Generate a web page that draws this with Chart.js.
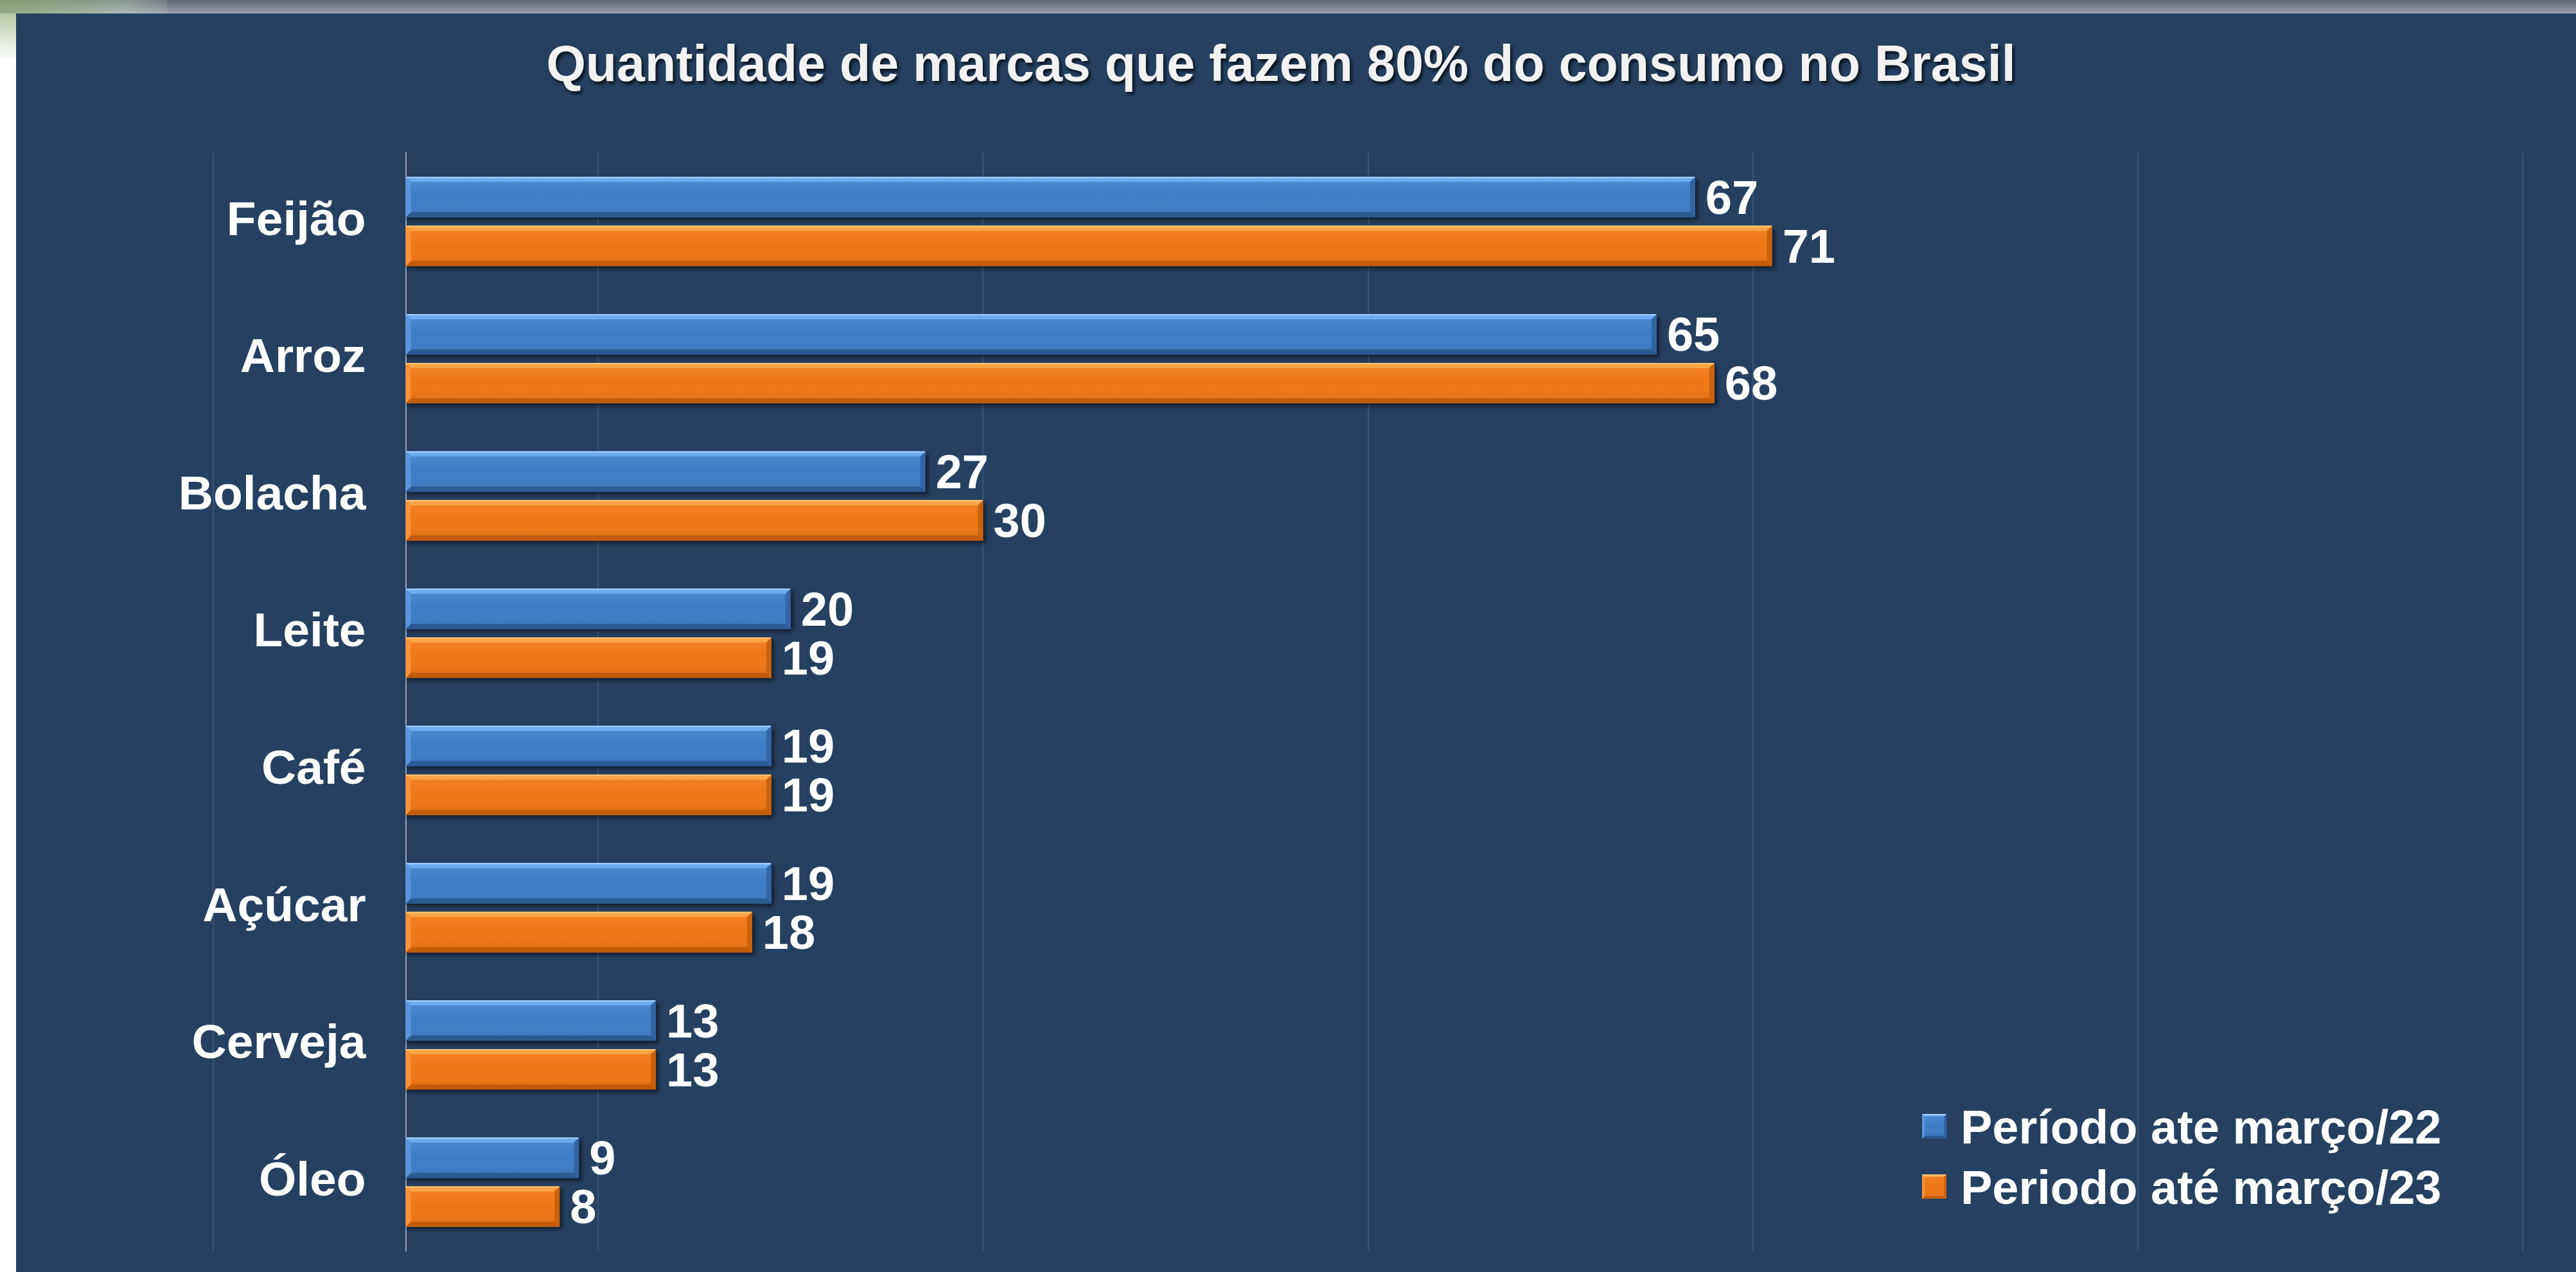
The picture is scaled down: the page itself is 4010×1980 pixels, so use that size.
<!DOCTYPE html>
<html lang="pt-BR">
<head>
<meta charset="utf-8">
<title>Quantidade de marcas que fazem 80% do consumo no Brasil</title>
<script src="https://cdn.jsdelivr.net/npm/chart.js@4.4.1/dist/chart.umd.min.js"></script>
<style>
    html, body {
        margin: 0;
        padding: 0;
        width: 4010px;
        height: 1980px;
        overflow: hidden;
        background: #ffffff;
    }
    .top-band {
        position: absolute;
        left: 0;
        top: 0;
        width: 4010px;
        height: 21px;
        background: linear-gradient(to bottom, #5f6875, #9ba3ad);
    }
    .corner {
        position: absolute;
        left: 0;
        top: 0;
        width: 260px;
        height: 90px;
        background: radial-gradient(ellipse at 0 0, rgba(140, 170, 110, 0.85), rgba(200, 215, 190, 0.4) 55%, rgba(255, 255, 255, 0) 80%);
    }
    .panel {
        position: absolute;
        left: 25px;
        top: 21px;
        width: 3985px;
        height: 1959px;
        background: #264062;
    }
    #brandChart {
        display: block;
    }
</style>
</head>
<body>
<div class="top-band"></div>
<div class="corner"></div>
<div class="panel">
    <canvas id="brandChart" width="3985" height="1959"></canvas>
</div>
<script>
// chart data
const chartTitle = 'Quantidade de marcas que fazem 80% do consumo no Brasil';
const categories = ['Feijão', 'Arroz', 'Bolacha', 'Leite', 'Café', 'Açúcar', 'Cerveja', 'Óleo'];
const seriesNames = ['Período ate março/22', 'Periodo até março/23'];
const values2022 = [67, 65, 27, 20, 19, 19, 13, 9];
const values2023 = [71, 68, 30, 19, 19, 18, 13, 8];
const axisMin = -10;
const axisMax = 110;
const axisStep = 20;

const FONT = "'Liberation Sans', Arial, sans-serif";

// bevel colours for each series
const palettes = [
    { body: '#3e7cc8', top: '#6eaaf0', line: '#a6d2ff', left: '#5a96de', right: '#3365a5', bottom: '#2c5a93' },
    { body: '#f07613', top: '#fba546', line: '#ffc77a', left: '#f6923a', right: '#c9620d', bottom: '#c15c0b' }
];

const BORDER = 6.5;
const LABEL_GAP = 62;

function poly(ctx, pts, color) {
    ctx.beginPath();
    ctx.moveTo(pts[0][0], pts[0][1]);
    for (let i = 1; i < pts.length; i++) ctx.lineTo(pts[i][0], pts[i][1]);
    ctx.closePath();
    ctx.fillStyle = color;
    ctx.fill();
}

function bevelBox(ctx, l, t, r, b, pal, d) {
    const g = ctx.createLinearGradient(0, t, 0, b);
    g.addColorStop(0, 'rgba(255,255,255,0.10)');
    g.addColorStop(0.5, 'rgba(255,255,255,0)');
    g.addColorStop(1, 'rgba(0,0,0,0.10)');
    ctx.fillStyle = g;
    ctx.fillRect(l, t, r - l, b - t);
    poly(ctx, [[l, t], [r, t], [r - d, t + d], [l + d, t + d]], pal.top);
    poly(ctx, [[l, b], [r, b], [r - d, b - d], [l + d, b - d]], pal.bottom);
    poly(ctx, [[l, t], [l + d, t + d], [l + d, b - d], [l, b]], pal.left);
    poly(ctx, [[r, t], [r - d, t + d], [r - d, b - d], [r, b]], pal.right);
    ctx.fillStyle = pal.line;
    ctx.fillRect(l + 1, t, r - l - 2, 2);
}

function barRect(el) {
    const p = el.getProps(['x', 'y', 'base', 'height'], true);
    return {
        l: Math.min(p.base, p.x),
        r: Math.max(p.base, p.x),
        t: p.y - p.height / 2 + BORDER,
        b: p.y + p.height / 2 - BORDER,
        cy: p.y
    };
}

// category labels sit a little left of the zero line
const labelGap = {
    id: 'labelGap',
    afterLayout(chart) {
        const yScale = chart.scales.y;
        if (yScale._gapPatched) return;
        const orig = yScale.drawLabels;
        yScale.drawLabels = function(area) {
            this.ctx.save();
            this.ctx.translate(-LABEL_GAP, 0);
            orig.call(this, area);
            this.ctx.restore();
        };
        yScale._gapPatched = true;
    }
};

// shadow + bevel on bars, value labels
const barDecor = {
    id: 'barDecor',
    beforeDatasetsDraw(chart) {
        const ctx = chart.ctx;
        ctx.save();
        ctx.filter = 'blur(3px)';
        ctx.fillStyle = 'rgba(0, 0, 0, 0.55)';
        chart.data.datasets.forEach((ds, i) => {
            chart.getDatasetMeta(i).data.forEach(el => {
                const r = barRect(el);
                ctx.fillRect(r.l + 2, r.t + 4, r.r - r.l + 2, r.b - r.t);
            });
        });
        ctx.restore();
    },
    afterDatasetsDraw(chart) {
        const ctx = chart.ctx;
        ctx.save();
        chart.data.datasets.forEach((ds, i) => {
            chart.getDatasetMeta(i).data.forEach(el => {
                const r = barRect(el);
                bevelBox(ctx, r.l, r.t, r.r, r.b, palettes[i], 8);
            });
        });
        ctx.font = 'bold 74px ' + FONT;
        ctx.fillStyle = '#ffffff';
        ctx.textAlign = 'left';
        ctx.textBaseline = 'alphabetic';
        chart.data.datasets.forEach((ds, i) => {
            chart.getDatasetMeta(i).data.forEach((el, j) => {
                const r = barRect(el);
                ctx.fillText(String(ds.data[j]), r.r + 16, r.cy + 26);
            });
        });
        ctx.restore();
    }
};

// title and legend drawn in the plot
const titleLegend = {
    id: 'titleLegend',
    afterDraw(chart) {
        const ctx = chart.ctx;
        ctx.save();
        ctx.font = 'bold 79px ' + FONT;
        ctx.textAlign = 'center';
        ctx.textBaseline = 'alphabetic';
        ctx.shadowColor = 'rgba(0, 0, 0, 0.75)';
        ctx.shadowOffsetX = 3;
        ctx.shadowOffsetY = 4;
        ctx.shadowBlur = 5;
        ctx.fillStyle = '#f2f2f2';
        ctx.fillText(chartTitle, 1969, 105);
        ctx.restore();

        ctx.save();
        ctx.font = 'bold 74px ' + FONT;
        ctx.textAlign = 'left';
        ctx.textBaseline = 'alphabetic';
        chart.data.datasets.forEach((ds, i) => {
            const cy = 1732 + i * 94;
            ctx.fillStyle = palettes[i].body;
            ctx.fillRect(2967, cy - 19, 38, 38);
            bevelBox(ctx, 2967, cy - 19, 3005, cy + 19, palettes[i], 4);
            ctx.fillStyle = '#ffffff';
            ctx.fillText(ds.label, 3027, cy + 27);
        });
        ctx.restore();
    }
};

document.addEventListener('DOMContentLoaded', function() {
    const ctx = document.getElementById('brandChart').getContext('2d');
    const chart = new Chart(ctx, {
        type: 'bar',
        data: {
            labels: categories,
            datasets: [{
                label: seriesNames[0],
                data: values2022,
                backgroundColor: palettes[0].body,
                borderColor: 'rgba(0,0,0,0)',
                borderWidth: { top: BORDER, bottom: BORDER, left: 0, right: 0 },
                borderSkipped: false
            }, {
                label: seriesNames[1],
                data: values2023,
                backgroundColor: palettes[1].body,
                borderColor: 'rgba(0,0,0,0)',
                borderWidth: { top: BORDER, bottom: BORDER, left: 0, right: 0 },
                borderSkipped: false
            }]
        },
        options: {
            indexAxis: 'y',
            responsive: false,
            animation: false,
            devicePixelRatio: 1,
            categoryPercentage: 0.712,
            barPercentage: 1.0,
            layout: {
                padding: { left: 307, right: 83, top: 217, bottom: 33 }
            },
            scales: {
                x: {
                    min: axisMin,
                    max: axisMax,
                    ticks: { display: false, stepSize: axisStep },
                    grid: { color: '#3a5676', lineWidth: 2, drawTicks: false },
                    border: { display: false }
                },
                y: {
                    position: { x: 0 },
                    grid: { display: false, drawTicks: false },
                    border: { display: true, color: '#95a3b6', width: 2 },
                    ticks: {
                        color: '#ffffff',
                        padding: 0,
                        font: { family: FONT, size: 75, weight: 'bold' }
                    },
                    afterFit(scale) {
                        scale.paddingTop = 0;
                        scale.paddingBottom = 0;
                    }
                }
            },
            plugins: {
                legend: { display: false },
                title: { display: false },
                tooltip: { enabled: false }
            }
        },
        plugins: [labelGap, barDecor, titleLegend]
    });
});
</script>
</body>
</html>
